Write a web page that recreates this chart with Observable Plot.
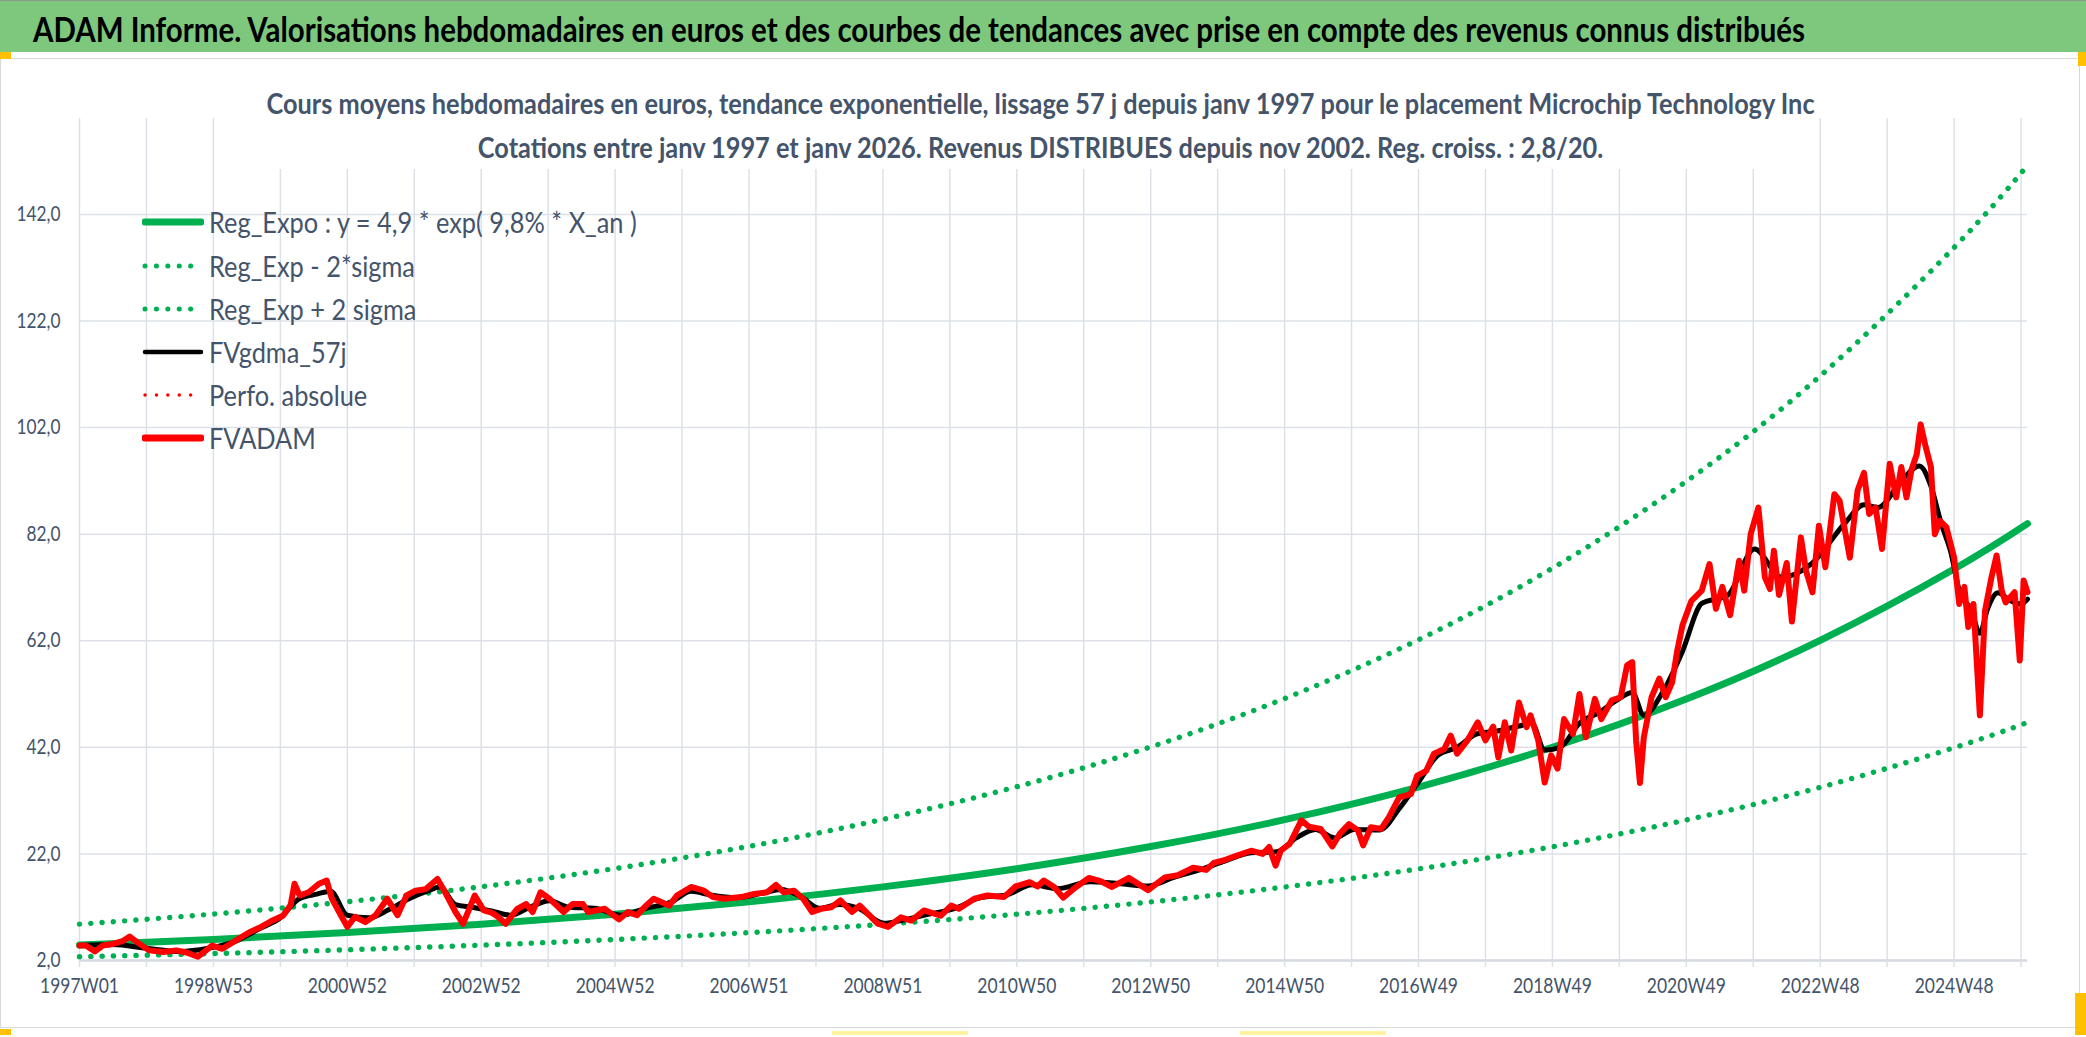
<!DOCTYPE html>
<html>
<head>
<meta charset="utf-8">
<script src="https://cdn.jsdelivr.net/npm/d3@7"></script>
<script src="https://cdn.jsdelivr.net/npm/@observablehq/plot@0.6"></script>
<style>
  html, body { margin: 0; padding: 0; background: #ffffff; }
  body { width: 2086px; height: 1037px; position: relative; overflow: hidden; font-family: Lato, "Open Sans", sans-serif; }
  #bar { position: absolute; left: 0; top: 0; width: 2086px; height: 52px; background: #7dc87d;
         border-top: 1px solid #8a9a8a; box-sizing: border-box; }
  #bar span { position: absolute; left: 33px; top: 0; line-height: 56px; font-weight: bold; color: #000; white-space: nowrap;
              transform-origin: left center; }
  #frame { position: absolute; left: 0; top: 58px; width: 2080px; height: 970px; border: 1px solid #d9d9d9; box-sizing: border-box; }
  #chart { position: absolute; left: 0; top: 59px; }
  #sub { position: absolute; left: 0; top: 81px; width: 2082px; text-align: center; z-index: 2; }
  #sub span { display: inline-block; background: #fff; color: #44546A; font-weight: bold;
              line-height: 44px; padding: 0 4px; white-space: nowrap; transform-origin: center center; }
  #legend { position: absolute; left: 0; top: 0; z-index: 2; }
  .row { position: absolute; left: 142px; height: 44px; display: flex; align-items: center; white-space: nowrap; }
  .row svg { width: 62px; height: 12px; margin-right: 5px; flex: none; }
  .row span { color: #44546A; display: inline-block; transform-origin: left center; }
  .hdl { position: absolute; background: #ffc000; z-index: 3; }
</style>
</head>
<body>
<div id="bar"><span id="title"></span></div>
<div id="frame"></div>
<div id="chart"></div>
<div id="sub"><span id="subtxt"></span></div>
<div id="legend"></div>
<div class="hdl" style="left:0;top:52px;width:11px;height:7px;"></div>
<div class="hdl" style="left:2078px;top:52px;width:8px;height:14px;"></div>
<div class="hdl" style="left:0;top:1029px;width:11px;height:6px;"></div>
<div class="hdl" style="left:2075px;top:993px;width:11px;height:42px;"></div>
<div class="hdl" style="left:832px;top:1031px;width:136px;height:4px;background:#fff3a0;"></div>
<div class="hdl" style="left:1240px;top:1031px;width:146px;height:4px;background:#fff3a0;"></div>
<script>
// ---------- texts ----------
const titleText = "ADAM Informe. Valorisations hebdomadaires en euros et des courbes de tendances avec prise en compte des revenus connus distribués";
const subtitleLines = [
  "Cours moyens hebdomadaires en euros, tendance exponentielle, lissage 57 j depuis janv 1997 pour le placement Microchip Technology Inc",
  "Cotations entre janv 1997 et janv 2026. Revenus DISTRIBUES depuis nov 2002. Reg. croiss. : 2,8/20."
];
const legendLabels = ["Reg_Expo : y = 4,9 * exp( 9,8% *  X_an )", "Reg_Exp - 2*sigma", "Reg_Exp + 2 sigma", "FVgdma_57j", "Perfo. absolue", "FVADAM"];

// ---------- axis ticks ----------
const xTickLabels = ["1997W01","1998W53","2000W52","2002W52","2004W52","2006W51","2008W51","2010W50","2012W50","2014W50","2016W49","2018W49","2020W49","2022W48","2024W48"];
const xTickWeeks = [0,104,208,312,416,520,624,728,832,936,1040,1144,1248,1352,1456];
const xGridWeeks = [0,52,104,156,208,260,312,364,416,468,520,572,624,676,728,780,832,884,936,988,1040,1092,1144,1196,1248,1300,1352,1404,1456,1508];
const yTicks = [2,22,42,62,82,102,122,142];
const lastWeek = 1513;

// ---------- regression curves (read every 104 weeks) ----------
const regWeeks = [0,104,208,312,416,520,624,728,832,936,1040,1144,1248,1352,1456,1513];
const regCenter = [4.90,5.96,7.24,8.80,10.70,13.01,15.82,19.23,23.38,28.42,34.55,42.01,51.06,62.08,75.47,83.99];
const regUpper  = [8.82,10.72,13.03,15.84,19.26,23.42,28.48,34.61,42.08,51.16,62.19,75.62,91.91,111.7,135.8,151.2];
const regLower  = [2.72,3.31,4.02,4.89,5.94,7.23,8.79,10.68,12.99,15.79,19.19,23.34,28.37,34.49,41.93,46.66];

// ---------- FVADAM (red) ----------
const redWeeks = [0,5,12,18,26,34,39,45,54,65,75,83,92,103,111,121,132,141,149,158,164,167,171,178,186,192,196,203,208,214,222,230,239,247,254,261,269,278,284,292,298,307,314,
 320,325,331,340,347,352,358,365,376,383,391,395,408,419,426,433,440,446,458,464,475,485,492,501,514,524,534,541,547,555,562,569,576,584,591,600,606,620,628,638,646,
 656,669,677,683,695,705,718,727,738,744,749,757,764,773,784,793,802,815,830,843,853,865,875,881,890,899,910,919,924,929,933,940,949,955,
 964,973,979,986,993,997,1003,1011,1017,1025,1034,1039,1046,1052,1060,1065,1070,1078,1086,1092,1098,1102,1107,1112,1118,1124,1127,1133,1138,1143,1148,1153,1160,1165,1170,1177,1182,1190,1197,1202,1206,1209,1212,1215,1221,1227,1232,1237,1241,1245,1252,
 1260,1266,1271,1276,1282,1289,1293,1298,1304,1309,1313,1316,1320,1326,1330,1337,1341,1346,1351,1356,1363,1367,1375,1381,1386,1390,1395,1400,1406,1411,1415,1419,1423,1427,1430,1434,1438,1441,1445,1450,1456,1460,1464,1467,1471,1476,1480,1485,1489,1493,1496,1503,1507,1510,1513];
const redValues = [4.8,4.8,3.7,4.8,5.1,5.7,6.5,5.4,3.9,3.6,3.9,3.5,2.7,4.8,4.2,5.7,7.3,8.3,9.4,10.4,12.4,16.4,14.2,14.8,16.4,17.0,13.6,10.5,8.3,10.2,9.2,10.5,13.6,10.5,14.2,15.1,15.4,17.3,14.8,11.1,8.9,14.2,11.4,
 11.0,10.2,8.9,11.7,12.6,11.1,14.8,13.6,11.1,12.6,12.6,11.1,11.7,9.7,11.1,10.5,12.3,13.6,12.3,14.2,15.8,15.1,13.9,13.6,13.9,14.5,14.8,16.2,14.8,15.1,13.6,11.1,11.7,12.0,13.3,11.1,12.3,8.9,8.3,10.1,9.5,
 11.4,10.4,12.3,11.7,13.6,14.2,13.9,15.9,16.7,15.9,17.0,15.8,13.8,15.6,17.5,16.9,15.8,17.5,15.2,17.6,18.0,19.4,19.0,20.3,20.9,21.7,22.6,22.0,23.3,19.8,22.6,23.9,28.3,27.1,
 26.7,23.4,25.8,27.6,26.4,23.6,27.0,26.7,28.9,32.6,33.2,36.7,37.6,40.8,41.7,44.2,40.8,43.3,46.7,43.3,45.9,40.1,46.7,41.4,50.4,45.8,48.0,43.3,35.4,40.5,38.0,47.3,44.5,52.0,43.9,51.1,47.3,50.8,51.4,57.4,58.0,43.3,35.3,43.9,51.4,54.9,51.4,54.2,60.2,64.9,69.5,
 71.4,76.4,68.0,72.1,66.8,77.0,71.4,82.0,87.0,73.9,71.7,78.9,70.6,76.6,65.6,81.4,75.1,71.1,83.6,75.8,89.5,88.3,77.6,90.2,93.5,85.8,87.0,79.2,95.2,88.9,94.6,88.9,94.2,97.0,102.6,98.3,94.6,82.0,84.5,83.3,77.6,68.9,72.1,64.6,68.9,48.0,67.6,73.9,78.0,71.4,69.2,71.1,58.3,73.3,71.1];

// ---------- FVgdma_57j (black) ----------
const blackWeeks = [0,26,52,78,100,120,140,156,170,185,195,208,225,240,255,270,280,292,305,320,335,350,365,380,400,420,440,460,475,490,510,530,545,560,575,590,605,625,640,660,680,700,720,740,760,785,805,830,850,870,890,910,930,945,960,975,990,1010,1025,1040,1055,1070,1085,1100,1118,1128,1138,1150,1165,1180,1195,1206,1215,1230,1245,1260,1280,1301,1322,1345,1371,1386,1397,1415,1429,1438,1446,1453,1461,1469,1476,1482,1490,1500,1508,1513];
const blackValues = [4.8,5.0,4.3,3.7,4.3,5.5,8.0,10.0,13.5,14.5,15.0,10.5,10.0,11.5,13.5,15.0,15.8,12.5,12.0,11.3,10.5,12.0,13.2,12.0,11.8,10.5,11.8,13.0,15.0,14.3,13.8,14.6,15.3,14.0,11.8,12.5,11.8,9.0,9.6,10.7,11.8,13.8,14.3,16.2,15.5,16.8,16.5,16.0,17.6,19.0,20.7,22.2,22.4,25.0,26.6,25.0,26.6,26.5,30.5,35.5,40.5,42.0,44.5,45.0,46.0,46.5,41.5,42.0,46.5,48.5,51.0,52.3,48.0,52.5,60.0,69.0,70.5,79.2,73.9,76.4,84.0,87.5,87.0,92.0,94.8,91.0,84.0,79.0,70.6,68.0,63.4,68.0,71.0,69.5,68.9,69.8];

// ---------- font sizing to the reference's (narrow) text widths ----------
const FAMILY = 'Lato, "Open Sans", sans-serif';
const SQUEEZE = 0.88;      // horizontal compression imitating a narrow face
const TICK_SQUEEZE = 0.83;
const ctx = document.createElement("canvas").getContext("2d");
function fitSize(text, weight, target) {
  ctx.font = `${weight} 100px ${FAMILY}`;
  return 100 * target / ctx.measureText(text).width;
}
const titleSize = fitSize(titleText, "bold", 1774) / SQUEEZE;
const subSize = fitSize(subtitleLines[0], "bold", 1551) / SQUEEZE;
const legSize = fitSize(legendLabels[1], "normal", 206) / SQUEEZE;
const xTickSize = fitSize(xTickLabels[0], "normal", 79) / TICK_SQUEEZE;
const yTickSize = fitSize("2,0", "normal", 24) / TICK_SQUEEZE;

// ---------- build ----------
const tEl = document.getElementById("title");
tEl.textContent = titleText;
tEl.style.fontSize = titleSize + "px";
tEl.style.transform = `scaleX(${SQUEEZE})`;
const sEl = document.getElementById("subtxt");
sEl.innerHTML = subtitleLines.join("<br>");
sEl.style.fontSize = subSize + "px";
sEl.style.transform = `scaleX(${SQUEEZE})`;

const toRows = (ws, vs) => ws.map((w, i) => ({w, v: vs[i]}));
const red = toRows(redWeeks, redValues);
const black = toRows(blackWeeks, blackValues);
const center = toRows(regWeeks, regCenter);
const upper = toRows(regWeeks, regUpper);
const lower = toRows(regWeeks, regLower);
const labelOf = new Map(xTickWeeks.map((w, i) => [w, xTickLabels[i]]));

const GREEN = "#00B050", RED = "#FF0000", GRID = "#dde1e7", TEXT = "#44546A";

const chart = Plot.plot({
  width: 2086, height: 971,
  marginTop: 59, marginBottom: 70, marginLeft: 79, marginRight: 59,
  x: {domain: [0, lastWeek]},
  y: {domain: [2, 160]},
  style: {fontFamily: FAMILY, background: "transparent", color: TEXT, overflow: "visible"},
  marks: [
    Plot.gridY(yTicks, {stroke: GRID, strokeOpacity: 1, strokeWidth: 1.5}),
    Plot.gridX(xGridWeeks, {stroke: GRID, strokeOpacity: 1, strokeWidth: 1.5}),
    Plot.ruleY([2], {stroke: "#d6dae0", strokeWidth: 2.5}),
    Plot.axisX(xGridWeeks, {tickSize: 7, tickPadding: 11, stroke: GRID, strokeWidth: 1.5, fill: TEXT,
      tickFormat: d => labelOf.get(d) ?? "", fontSize: xTickSize, label: null}),
    Plot.axisY(yTicks, {tickSize: 0, tickPadding: 19, fill: TEXT,
      tickFormat: d => d.toFixed(1).replace(".", ","), fontSize: yTickSize, label: null}),
    Plot.line(lower, {x: "w", y: "v", curve: "natural", stroke: GREEN, strokeWidth: 5.4, strokeDasharray: "0.1 11.2", strokeLinecap: "round"}),
    Plot.line(upper, {x: "w", y: "v", curve: "natural", stroke: GREEN, strokeWidth: 5.4, strokeDasharray: "0.1 11.2", strokeLinecap: "round"}),
    Plot.line(center, {x: "w", y: "v", curve: "natural", stroke: GREEN, strokeWidth: 7}),
    Plot.line(black, {x: "w", y: "v", curve: "monotone-x", stroke: "#000", strokeWidth: 5, strokeLinejoin: "round"}),
    Plot.line(red, {x: "w", y: "v", stroke: RED, strokeWidth: 6, strokeLinejoin: "round", strokeLinecap: "round"})
  ]
});
document.getElementById("chart").appendChild(chart);

// compress the axis labels horizontally, like a narrow face
chart.querySelectorAll('g[aria-label="x-axis tick label"] text, g[aria-label="y-axis tick label"] text').forEach(t => {
  if (!t.textContent) return;
  const w = t.getComputedTextLength();
  t.setAttribute("textLength", (w * TICK_SQUEEZE).toFixed(2));
  t.setAttribute("lengthAdjust", "spacingAndGlyphs");
});

// ---------- legend ----------
const legendStyles = [
  {stroke: GREEN, width: 7, dash: null},
  {stroke: GREEN, width: 5, dash: "0.1 11.3"},
  {stroke: GREEN, width: 5, dash: "0.1 11.3"},
  {stroke: "#000", width: 4.5, dash: null},
  {stroke: RED, width: 3.4, dash: "0.1 11.3"},
  {stroke: RED, width: 7, dash: null}
];
const legendCenters = [222, 266, 309, 352, 395, 438];
const leg = document.getElementById("legend");
legendLabels.forEach((lab, i) => {
  const s = legendStyles[i];
  const row = document.createElement("div");
  row.className = "row";
  row.style.top = (legendCenters[i] - 22) + "px";
  row.innerHTML = `<svg viewBox="0 0 62 12"><line x1="3" y1="6" x2="59" y2="6" stroke="${s.stroke}" stroke-width="${s.width}" stroke-linecap="round" ${s.dash ? `stroke-dasharray="${s.dash}"` : ""}/></svg><span></span>`;
  const sp = row.querySelector("span");
  sp.textContent = lab;
  sp.style.fontSize = legSize + "px";
  sp.style.transform = `scaleX(${SQUEEZE})`;
  leg.appendChild(row);
});
</script>
</body>
</html>
